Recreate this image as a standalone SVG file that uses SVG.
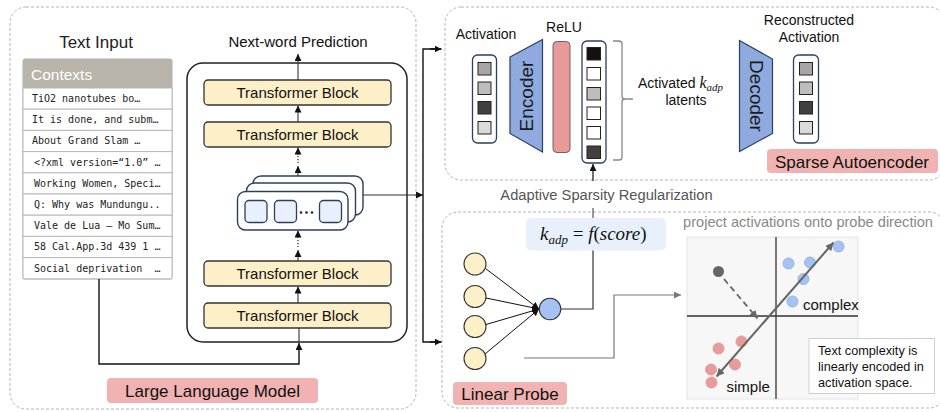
<svg xmlns="http://www.w3.org/2000/svg" width="940" height="412" viewBox="0 0 940 412">
<style>
.sans{font-family:"Liberation Sans",Arial,sans-serif;}
.mono{font-family:"DejaVu Sans Mono",monospace;font-size:10px;fill:#222;}
.math{font-family:"Liberation Serif","Times New Roman",serif;font-style:italic;}
.panel{fill:none;stroke:#b5b5b5;stroke-width:1;stroke-dasharray:3 2;}
.tb{fill:#fdf0c8;stroke:#333;stroke-width:1.3;}
.tbt{font-family:"Liberation Sans",Arial,sans-serif;font-size:15px;fill:#111;text-anchor:middle;}
.lbl{fill:#f0b3b1;}
.lblt{font-family:"Liberation Sans",Arial,sans-serif;font-size:17px;fill:#111;text-anchor:middle;}
.row{fill:#fff;stroke:#b8b8b8;stroke-width:1;}
.card{fill:#fff;stroke:#2d3e5f;stroke-width:1.4;}
.cell{fill:#e8f0fb;stroke:#2d3e5f;stroke-width:1.3;}
.col{fill:#fff;stroke:#2d3e5f;stroke-width:1.3;}
.sq{stroke:#222;stroke-width:1;}
.trap{fill:#8eaadf;stroke:#2d3e5f;stroke-width:1.2;}
.conn{fill:none;stroke:#111;stroke-width:1.4;}
.thin{fill:none;stroke:#333;stroke-width:1.1;}
.yel{fill:#fdf0c8;stroke:#333;stroke-width:1.1;}
.blue{fill:#a4c2f4;stroke:#9bb3d8;stroke-width:1;}
.red{fill:#e99a9a;stroke:#dba0a0;stroke-width:1;}
</style>
<defs>
<marker id="ah" viewBox="0 0 10 10" refX="10" refY="5" markerWidth="7" markerHeight="7" orient="auto" markerUnits="userSpaceOnUse"><path d="M0,0 L10,5 L0,10 z" fill="#111"/></marker>
<marker id="ahg" viewBox="0 0 10 10" refX="10" refY="5" markerWidth="8" markerHeight="8" orient="auto-start-reverse" markerUnits="userSpaceOnUse"><path d="M0,0 L10,5 L0,10 z" fill="#666"/></marker>
<marker id="ahg2" viewBox="0 0 10 10" refX="10" refY="5" markerWidth="7" markerHeight="7" orient="auto" markerUnits="userSpaceOnUse"><path d="M0,0 L10,5 L0,10 z" fill="#777"/></marker>
</defs>
<rect width="940" height="412" fill="#fff"/>

<!-- Panels -->
<g id="panel-llm">
<rect class="panel" x="10" y="7" width="406" height="402" rx="16"/>
<rect class="lbl" x="107" y="378" width="211" height="25" rx="4"/>
<text class="lblt" x="212.5" y="397">Large Language Model</text>
</g>
<g id="panel-sae">
<rect class="panel" x="445" y="7" width="500" height="173" rx="16"/>
<rect class="lbl" x="767" y="149" width="171" height="24" rx="4"/>
<text class="lblt" x="852" y="167.5">Sparse Autoencoder</text>
</g>
<g id="panel-probe">
<rect class="panel" x="442" y="212" width="503" height="196" rx="16"/>
<rect class="lbl" x="453" y="382" width="114" height="23" rx="4"/>
<text class="lblt" x="510" y="400">Linear Probe</text>
</g>

<!-- Text input table -->
<g id="text-input">
<text class="sans" x="96" y="48" font-size="17" fill="#222" text-anchor="middle">Text Input</text>
<rect x="23" y="59" width="149" height="220" rx="2" fill="#fff" stroke="#b0b0b0"/>
<path d="M23,88 L23,61 Q23,59 25,59 L170,59 Q172,59 172,61 L172,88 Z" fill="#b8b4aa"/>
<text class="sans" x="31" y="80" font-size="15.5" fill="#fff">Contexts</text>
<rect class="row" x="23" y="88" width="149" height="21.2"/>
<rect class="row" x="23" y="109.2" width="149" height="21.2"/>
<rect class="row" x="23" y="130.4" width="149" height="21.2"/>
<rect class="row" x="23" y="151.6" width="149" height="21.2"/>
<rect class="row" x="23" y="172.8" width="149" height="21.2"/>
<rect class="row" x="23" y="194" width="149" height="21.2"/>
<rect class="row" x="23" y="215.2" width="149" height="21.2"/>
<rect class="row" x="23" y="236.4" width="149" height="21.2"/>
<rect class="row" x="23" y="257.6" width="149" height="21.2"/>
<text class="mono" x="32" y="102">TiO2 nanotubes bo…</text>
<text class="mono" x="32" y="123.2">It is done, and subm…</text>
<text class="mono" x="32" y="144.4">About Grand Slam …</text>
<text class="mono" x="34" y="165.6">&lt;?xml version=“1.0” …</text>
<text class="mono" x="34" y="186.8">Working Women, Speci…</text>
<text class="mono" x="34" y="208">Q: Why was Mundungu..</text>
<text class="mono" x="34" y="229.2">Vale de Lua – Mo Sum…</text>
<text class="mono" x="34" y="250.4">58 Cal.App.3d 439 1 …</text>
<text class="mono" x="34" y="271.6" xml:space="preserve">Social deprivation  …</text>
</g>

<!-- LLM -->
<g id="llm">
<text class="sans" x="298" y="47" font-size="15" fill="#111" text-anchor="middle">Next-word Prediction</text>
<rect x="187" y="63" width="220" height="279" rx="16" fill="#fff" stroke="#222" stroke-width="1.5"/>
</g>
<g id="tblock1"><rect class="tb" x="204" y="80" width="187" height="25" rx="4"/><text class="tbt" x="297.5" y="98">Transformer Block</text></g>
<g id="tblock2"><rect class="tb" x="204" y="122" width="187" height="25" rx="4"/><text class="tbt" x="297.5" y="140">Transformer Block</text></g>
<g id="tblock3"><rect class="tb" x="204" y="261" width="187" height="25" rx="4"/><text class="tbt" x="297.5" y="279">Transformer Block</text></g>
<g id="tblock4"><rect class="tb" x="204" y="303" width="187" height="25" rx="4"/><text class="tbt" x="297.5" y="321">Transformer Block</text></g>
<g id="hidden-states">
<rect class="card" x="253" y="176" width="110" height="39" rx="8"/>
<rect class="card" x="246.5" y="183" width="109" height="39" rx="8"/>
<rect class="card" x="237.5" y="191.5" width="110.5" height="38.5" rx="8"/>
<rect class="cell" x="245" y="200.5" width="22" height="22" rx="4"/>
<rect class="cell" x="274.5" y="200.5" width="22" height="22" rx="4"/>
<rect class="cell" x="319.5" y="200.5" width="22" height="22" rx="4"/>
<circle cx="301" cy="212.5" r="1.3" fill="#222"/>
<circle cx="306.5" cy="212.5" r="1.3" fill="#222"/>
<circle cx="312" cy="212.5" r="1.3" fill="#222"/>
</g>

<!-- SAE -->
<g id="sae-activation">
<text class="sans" x="486" y="39" font-size="14" fill="#111" text-anchor="middle">Activation</text>
<rect class="col" x="472.5" y="55" width="24" height="88" rx="5"/>
<rect class="sq" x="478" y="62.5" width="13" height="12.5" fill="#a9a5a5"/>
<rect class="sq" x="478" y="82" width="13" height="12.5" fill="#bdbdbd"/>
<rect class="sq" x="478" y="101.5" width="13" height="12.5" fill="#404040"/>
<rect class="sq" x="478" y="121.5" width="13" height="12.5" fill="#dadada"/>
</g>
<g id="encoder">
<path class="trap" d="M510,57 L542.5,39.5 L542.5,152 L510,133.5 Z"/>
<text class="sans" font-size="19" fill="#1a1a1a" text-anchor="middle" transform="translate(532.5,96) rotate(-90)">Encoder</text>
</g>
<g id="relu">
<text class="sans" x="564" y="32" font-size="14" fill="#111" text-anchor="middle">ReLU</text>
<rect x="553" y="41.5" width="17" height="111" rx="4" fill="#ea9999" stroke="#666" stroke-width="1"/>
</g>
<g id="latents">
<rect class="col" x="582" y="41" width="24" height="122" rx="5"/>
<rect class="sq" x="587" y="47.5" width="13.5" height="12.5" fill="#111"/>
<rect class="sq" x="587" y="67.5" width="13.5" height="12.5" fill="#fff"/>
<rect class="sq" x="587" y="87.5" width="13.5" height="12.5" fill="#bdbdbd"/>
<rect class="sq" x="587" y="107" width="13.5" height="12.5" fill="#fff"/>
<rect class="sq" x="587" y="126.5" width="13.5" height="12.5" fill="#fff"/>
<rect class="sq" x="587" y="146" width="13.5" height="12.5" fill="#404040"/>
<path d="M613,41 L619,41 Q622,41 622,44 L622,96 Q622,99 625,99 L633,99 M625,99 Q622,99 622,102 L622,157 Q622,160 619,160 L613,160" fill="none" stroke="#888" stroke-width="1.3"/>
<text class="sans" x="638" y="88" font-size="14" fill="#111">Activated <tspan class="math" font-size="16">k</tspan><tspan class="math" font-size="11" dy="3">adp</tspan></text>
<text class="sans" x="686" y="105" font-size="14" fill="#111" text-anchor="middle">latents</text>
</g>
<g id="decoder">
<path class="trap" d="M739.5,40.5 L772.5,59 L772.5,133.5 L739.5,151.5 Z"/>
<text class="sans" font-size="19" fill="#1a1a1a" text-anchor="middle" transform="translate(750,96) rotate(90)">Decoder</text>
</g>
<g id="sae-reconstructed">
<text class="sans" x="809" y="25" font-size="14" fill="#111" text-anchor="middle">Reconstructed</text>
<text class="sans" x="809" y="42" font-size="14" fill="#111" text-anchor="middle">Activation</text>
<rect class="col" x="793.5" y="55" width="25" height="88" rx="5"/>
<rect class="sq" x="799.5" y="62.5" width="13" height="12.5" fill="#a9a5a5"/>
<rect class="sq" x="799.5" y="82" width="13" height="12.5" fill="#bdbdbd"/>
<rect class="sq" x="799.5" y="101.5" width="13" height="12.5" fill="#404040"/>
<rect class="sq" x="799.5" y="121.5" width="13" height="12.5" fill="#dadada"/>
</g>

<g id="adaptive-sparsity">
<text class="sans" x="606.5" y="199.5" font-size="14.7" fill="#555" text-anchor="middle">Adaptive Sparsity Regularization</text>
</g>
<g id="formula">
<rect x="526" y="218" width="140" height="32.5" rx="5" fill="#e8f1fb"/>
<text class="math" x="540" y="240" font-size="19" fill="#111">k<tspan font-size="13" dy="4">adp</tspan><tspan dy="-4" font-style="normal" xml:space="preserve"> = </tspan><tspan>f</tspan><tspan font-style="normal">(</tspan><tspan>score</tspan><tspan font-style="normal">)</tspan></text>
</g>

<!-- Linear probe neurons -->
<g id="probe-inputs">
<circle class="yel" cx="475" cy="264" r="11"/>
<circle class="yel" cx="475" cy="296.5" r="11"/>
<circle class="yel" cx="475" cy="326.5" r="11"/>
<circle class="yel" cx="475" cy="358.5" r="11"/>
</g>
<g id="probe-output">
<circle cx="550" cy="309" r="10.8" fill="#a4c2f4" stroke="#333" stroke-width="1.1"/>
</g>

<!-- Projection plot -->
<g id="projection-plot">
<text class="sans" x="808" y="226.5" font-size="14.6" fill="#888" text-anchor="middle">project activations onto probe direction</text>
<rect x="687" y="237" width="171" height="162" fill="#f7f7f7" stroke="#e4e4e4"/>
<line x1="776" y1="237" x2="776" y2="399" stroke="#333" stroke-width="1.3"/>
<line x1="687" y1="316" x2="858" y2="316" stroke="#333" stroke-width="1.3"/>
<circle class="blue" cx="838.5" cy="246.5" r="5.5"/>
<circle class="blue" cx="788.5" cy="263.5" r="5.5"/>
<circle class="blue" cx="810" cy="262.5" r="5.5"/>
<circle class="blue" cx="803.5" cy="279" r="5.5"/>
<circle class="blue" cx="792.5" cy="301.5" r="5.5"/>
<circle cx="718.5" cy="271.5" r="5.5" fill="#666"/>
<circle class="red" cx="741.5" cy="341.5" r="5.5"/>
<circle class="red" cx="718.5" cy="348.5" r="5.5"/>
<circle class="red" cx="735" cy="364.5" r="5.5"/>
<circle class="red" cx="711" cy="369.5" r="5.5"/>
<circle class="red" cx="711.5" cy="382.5" r="5.5"/>
<line x1="716.5" y1="376.5" x2="833.5" y2="242.5" stroke="#666" stroke-width="2" marker-start="url(#ahg)" marker-end="url(#ahg)"/>
<line x1="724" y1="279" x2="757.5" y2="318.5" stroke="#666" stroke-width="1.8" stroke-dasharray="6 4" marker-end="url(#ahg)"/>
<text class="sans" x="803" y="310" font-size="15" fill="#111">complex</text>
<text class="sans" x="726.5" y="391.5" font-size="15" fill="#111">simple</text>
<rect x="809" y="338.5" width="125.5" height="55" fill="#fff" stroke="#cfcfcf"/>
<text class="sans" font-size="12.7" fill="#111"><tspan x="818" y="355">Text complexity is</tspan><tspan x="818" y="371">linearly encoded in</tspan><tspan x="818" y="387">activation space.</tspan></text>
</g>

<!-- Connectors -->
<g id="connectors">
<path class="conn" d="M99,279 L99,364 L299,364 L299,343" marker-end="url(#ah)"/>
<line class="thin" x1="299" y1="342" x2="299" y2="328"/>
<line class="thin" x1="298" y1="303" x2="298" y2="286.5" marker-end="url(#ah)"/>
<line class="thin" x1="298" y1="261" x2="298" y2="250" marker-end="url(#ah)"/>
<line x1="298" y1="240" x2="298" y2="247" stroke="#333" stroke-width="1.3" stroke-dasharray="1.3 1.7"/>
<line class="thin" x1="298" y1="238" x2="298" y2="230.5" marker-end="url(#ah)"/>
<line class="thin" x1="298" y1="176" x2="298" y2="166" marker-end="url(#ah)"/>
<line x1="298" y1="156" x2="298" y2="163" stroke="#333" stroke-width="1.3" stroke-dasharray="1.3 1.7"/>
<line class="thin" x1="298" y1="155" x2="298" y2="147.5" marker-end="url(#ah)"/>
<line class="thin" x1="298" y1="122" x2="298" y2="105.5" marker-end="url(#ah)"/>
<line class="thin" x1="298" y1="80" x2="298" y2="54" marker-end="url(#ah)"/>
<line class="thin" x1="363" y1="195" x2="423" y2="195" marker-end="url(#ah)"/>
<path class="conn" d="M441,49 L423,49 L423,342 L441,342"/>
<line class="conn" x1="430" y1="49" x2="441.5" y2="49" marker-end="url(#ah)"/>
<line class="conn" x1="430" y1="342" x2="441.5" y2="342" marker-end="url(#ah)"/>
<line x1="485.5" y1="268.5" x2="539" y2="309" stroke="#111" stroke-width="1" marker-end="url(#ah)"/>
<line x1="486" y1="298" x2="539" y2="309" stroke="#111" stroke-width="1" marker-end="url(#ah)"/>
<line x1="486" y1="324.5" x2="539" y2="309" stroke="#111" stroke-width="1" marker-end="url(#ah)"/>
<line x1="485" y1="354" x2="539" y2="309" stroke="#111" stroke-width="1" marker-end="url(#ah)"/>
<path d="M561,309 L593,309 L593,250.5" fill="none" stroke="#333" stroke-width="1.2"/>
<line x1="593" y1="218" x2="593" y2="208" stroke="#555" stroke-width="1.2"/>
<line x1="593" y1="181" x2="593" y2="164" stroke="#111" stroke-width="1.2" marker-end="url(#ah)"/>
<path d="M524,358 L614,358 L614,295 L681,295" fill="none" stroke="#777" stroke-width="1.2" marker-end="url(#ahg2)"/>
</g>
</svg>
